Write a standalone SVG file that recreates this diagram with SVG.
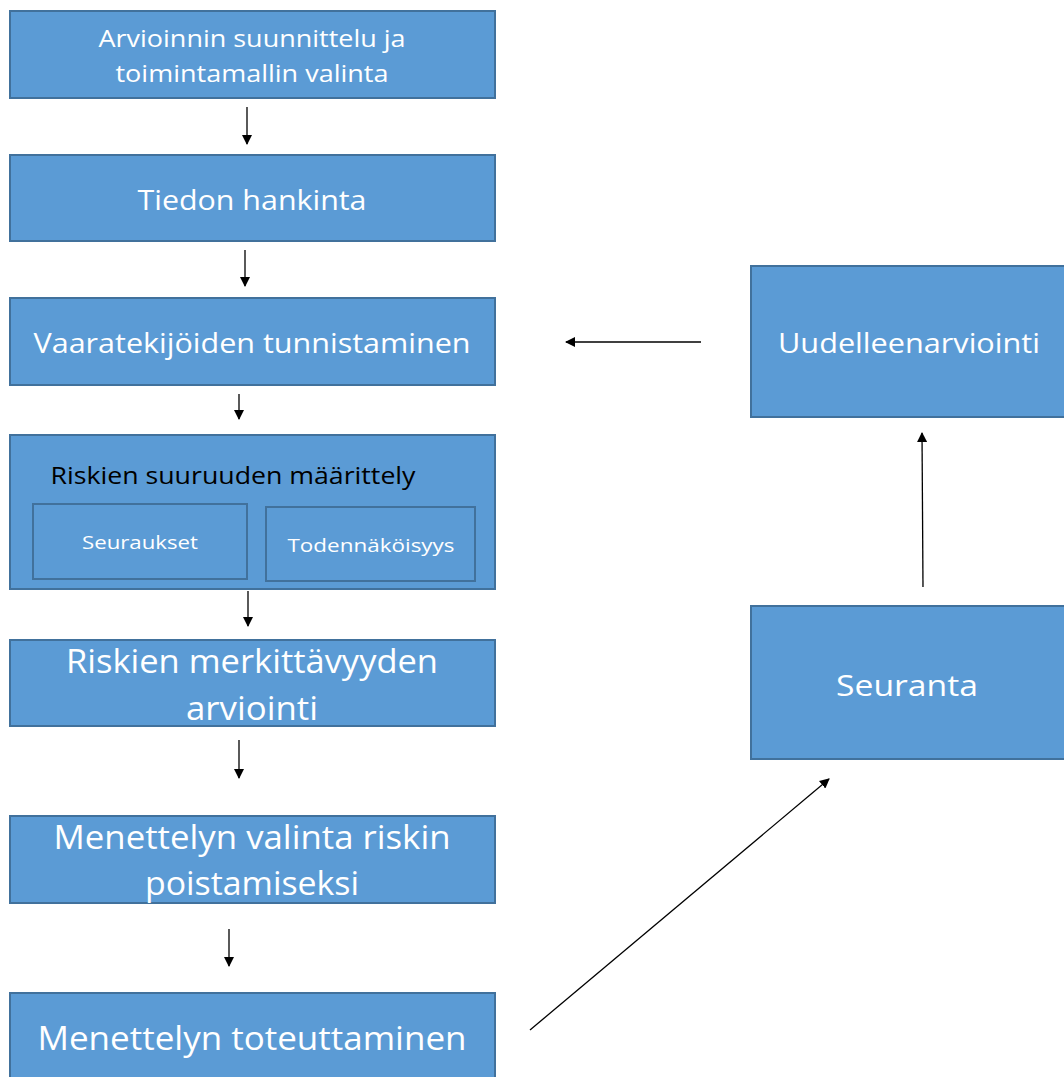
<svg xmlns="http://www.w3.org/2000/svg" width="1064" height="1077" viewBox="0 0 1064 1077">
<defs>
<marker id="ah" markerWidth="10" markerHeight="10" refX="9" refY="5" orient="auto" markerUnits="userSpaceOnUse"><path d="M0,0 L10,5 L0,10 z" fill="#000"/></marker>
<style>
.box{fill:#5B9BD5;stroke:#41719C;stroke-width:2}
.t{font-family:"Open Sans","Liberation Sans",sans-serif;fill:#fff;text-anchor:middle}
.c{stroke:#000;stroke-width:1.3;fill:none;marker-end:url(#ah)}
</style>
</defs>
<rect width="1064" height="1077" fill="#fff"/>
<g id="n1"><rect class="box" x="10" y="11" width="485" height="87"/>
<text class="t" x="252" y="47" font-size="23" textLength="307" lengthAdjust="spacingAndGlyphs">Arvioinnin suunnittelu ja</text>
<text class="t" x="252" y="82" font-size="23" textLength="273" lengthAdjust="spacingAndGlyphs">toimintamallin valinta</text></g>
<g id="n2"><rect class="box" x="10" y="155" width="485" height="86"/>
<text class="t" x="252" y="210" font-size="28" textLength="229" lengthAdjust="spacingAndGlyphs">Tiedon hankinta</text></g>
<g id="n3"><rect class="box" x="10" y="298" width="485" height="87"/>
<text class="t" x="252" y="353" font-size="28" textLength="437" lengthAdjust="spacingAndGlyphs">Vaaratekijöiden tunnistaminen</text></g>
<g id="n4"><rect class="box" x="10" y="435" width="485" height="154"/>
<text class="t" x="233" y="484" font-size="24" fill="#000" style="fill:#000" textLength="365" lengthAdjust="spacingAndGlyphs">Riskien suuruuden määrittely</text>
<g id="n4a"><rect class="box" x="33" y="504" width="214" height="75"/>
<text class="t" x="140" y="549" font-size="19" textLength="116" lengthAdjust="spacingAndGlyphs">Seuraukset</text></g>
<g id="n4b"><rect class="box" x="266" y="507" width="209" height="74"/>
<text class="t" x="371" y="552" font-size="19" textLength="167" lengthAdjust="spacingAndGlyphs">Todennäköisyys</text></g></g>
<g id="n5"><rect class="box" x="10" y="640" width="485" height="86"/>
<text class="t" x="252" y="673" font-size="32" textLength="372" lengthAdjust="spacingAndGlyphs">Riskien merkittävyyden</text>
<text class="t" x="252" y="720" font-size="32" textLength="132" lengthAdjust="spacingAndGlyphs">arviointi</text></g>
<g id="n6"><rect class="box" x="10" y="816" width="485" height="87"/>
<text class="t" x="252" y="849" font-size="32" textLength="397" lengthAdjust="spacingAndGlyphs">Menettelyn valinta riskin</text>
<text class="t" x="252" y="895" font-size="32" textLength="214" lengthAdjust="spacingAndGlyphs">poistamiseksi</text></g>
<g id="n7"><rect class="box" x="10" y="993" width="485" height="90"/>
<text class="t" x="252" y="1050" font-size="33" textLength="429" lengthAdjust="spacingAndGlyphs">Menettelyn toteuttaminen</text></g>
<g id="n8"><rect class="box" x="751" y="266" width="320" height="151"/>
<text class="t" x="909" y="353" font-size="28" textLength="262" lengthAdjust="spacingAndGlyphs">Uudelleenarviointi</text></g>
<g id="n9"><rect class="box" x="751" y="606" width="320" height="153"/>
<text class="t" x="907" y="696" font-size="30" textLength="142" lengthAdjust="spacingAndGlyphs">Seuranta</text></g>
<g id="connectors">
<line class="c" x1="247" y1="107" x2="247" y2="144"/>
<line class="c" x1="245" y1="250" x2="245" y2="286"/>
<line class="c" x1="239" y1="394" x2="239" y2="419"/>
<line class="c" x1="248" y1="591" x2="248" y2="626"/>
<line class="c" x1="239" y1="740" x2="239" y2="778"/>
<line class="c" x1="229" y1="929" x2="229" y2="966"/>
<line class="c" x1="701" y1="342" x2="566" y2="342"/>
<line class="c" x1="923" y1="587" x2="922" y2="433"/>
<line class="c" x1="530" y1="1030" x2="829" y2="779"/>
</g>
</svg>
